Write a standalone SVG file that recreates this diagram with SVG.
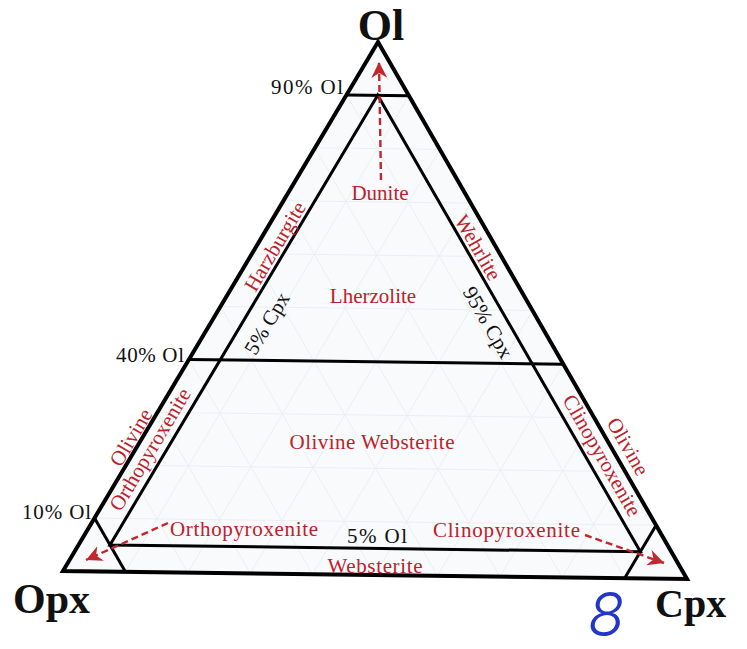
<svg xmlns="http://www.w3.org/2000/svg" width="747" height="649" viewBox="0 0 747 649">
  <style>
    .edge { fill: none; stroke: #000; stroke-width: 4; stroke-linejoin: miter; }
    .line { fill: none; stroke: #000; stroke-width: 3; }
    .grid { fill: none; stroke: #eceff2; stroke-width: 1; }
    .red { font-family: "Liberation Serif", "Times New Roman", serif; font-size: 21px; fill: #bd2129; }
    .blk { font-family: "Liberation Serif", "Times New Roman", serif; font-size: 21px; fill: #111; }
    .apex { font-family: "Liberation Serif", "Times New Roman", serif; font-weight: bold; fill: #111; }
    .dash { fill: none; stroke: #c1272d; stroke-width: 2.4; stroke-dasharray: 7 4; }
  </style>
  <defs>
    <marker id="head" markerUnits="userSpaceOnUse" markerWidth="18" markerHeight="18" refX="16" refY="8" orient="auto">
      <path d="M0,0 L16,8 L0,16 L5,8 z" fill="#c1272d"/>
    </marker>
  </defs>
  <rect width="747" height="649" fill="#fff"/>

  <g id="field">
    <polygon points="378,42 63,571 687,579" fill="#f8fafc"/>
    <path class="grid" d="M94.5,518.1 L656.1,525.3 M126,465.2 L625.2,471.6 M157.5,412.3 L594.3,417.9 M220.5,306.5 L532.5,310.5 M252,253.6 L501.6,256.8 M283.5,200.7 L470.7,203.1 M315,147.8 L439.8,149.4
      M346.5,94.9 L624.6,578.2 M315,147.8 L562.2,577.4 M283.5,200.7 L499.8,576.6 M252,253.6 L437.4,575.8 M220.5,306.5 L375,575 M189,359.4 L312.6,574.2 M157.5,412.3 L250.2,573.4 M126,465.2 L187.8,572.6
      M408.9,95.7 L125.4,571.8 M439.8,149.4 L187.8,572.6 M470.7,203.1 L250.2,573.4 M501.6,256.8 L312.6,574.2 M532.5,310.5 L375,575 M563.4,364.2 L437.4,575.8 M594.3,417.9 L499.8,576.6 M625.2,471.6 L562.2,577.4"/>
  </g>

  <g id="boundaries">
    <polygon class="edge" points="378,42 63,571 687,579"/>
    <line class="line" x1="346.5" y1="94.9" x2="408.9" y2="95.7"/>
    <line class="line" x1="189" y1="359.4" x2="563.4" y2="364.2"/>
    <line class="line" x1="94.5" y1="518.1" x2="125.4" y2="571.8"/>
    <line class="line" x1="656.1" y1="525.3" x2="624.6" y2="578.2"/>
    <polygon class="line" points="377.7,95.3 110,545 640.4,551.8"/>
  </g>

  <g id="connectors">
    <line class="dash" x1="381" y1="180" x2="379" y2="62" marker-end="url(#head)"/>
    <line class="dash" x1="168" y1="523" x2="86" y2="560" marker-end="url(#head)"/>
    <line class="dash" x1="585" y1="535" x2="664" y2="563" marker-end="url(#head)"/>
  </g>

  <g id="apex-ol"><text class="apex" x="381" y="40" font-size="44" text-anchor="middle">Ol</text></g>
  <g id="apex-opx"><text class="apex" x="13" y="613" font-size="42">Opx</text></g>
  <g id="apex-cpx"><text class="apex" x="655" y="617" font-size="40">Cpx</text></g>

  <g id="axis-labels">
    <text class="blk" x="343" y="94" text-anchor="end" textLength="72">90% Ol</text>
    <text class="blk" x="184" y="362" text-anchor="end" textLength="68">40% Ol</text>
    <text class="blk" x="91" y="519" text-anchor="end" textLength="69">10% Ol</text>
    <text class="blk" x="377" y="543" text-anchor="middle" textLength="60">5% Ol</text>
    <text class="blk" transform="translate(273,327) rotate(-59.2)" text-anchor="middle">5% Cpx</text>
    <text class="blk" transform="translate(482,326) rotate(60.1)" text-anchor="middle">95% Cpx</text>
  </g>

  <g id="dunite"><text class="red" x="380" y="200" text-anchor="middle">Dunite</text></g>
  <g id="harzburgite"><text class="red" transform="translate(281,250) rotate(-59.2)" text-anchor="middle">Harzburgite</text></g>
  <g id="wehrlite"><text class="red" transform="translate(472,251) rotate(60.1)" text-anchor="middle">Wehrlite</text></g>
  <g id="lherzolite"><text class="red" x="373" y="303" text-anchor="middle">Lherzolite</text></g>
  <g id="olivine-websterite"><text class="red" x="372" y="449" text-anchor="middle" textLength="165">Olivine Websterite</text></g>
  <g id="olivine-orthopyroxenite">
    <text class="red" transform="translate(137,441) rotate(-59.2)" text-anchor="middle">Olivine</text>
    <text class="red" transform="translate(156,453) rotate(-59.2)" text-anchor="middle">Orthopyroxenite</text>
  </g>
  <g id="olivine-clinopyroxenite">
    <text class="red" transform="translate(622,450) rotate(60.1)" text-anchor="middle">Olivine</text>
    <text class="red" transform="translate(596,459) rotate(60.1)" text-anchor="middle">Clinopyroxenite</text>
  </g>
  <g id="orthopyroxenite"><text class="red" x="170" y="536" textLength="148">Orthopyroxenite</text></g>
  <g id="clinopyroxenite"><text class="red" x="433" y="537" textLength="147">Clinopyroxenite</text></g>
  <g id="websterite"><text class="red" x="375" y="573" text-anchor="middle" textLength="95">Websterite</text></g>

  <g id="note"><text x="606" y="636" text-anchor="middle" font-family="Inter, 'Noto Sans', sans-serif" font-weight="300" font-style="italic" font-size="60" fill="#2236c9">8</text></g>
</svg>
